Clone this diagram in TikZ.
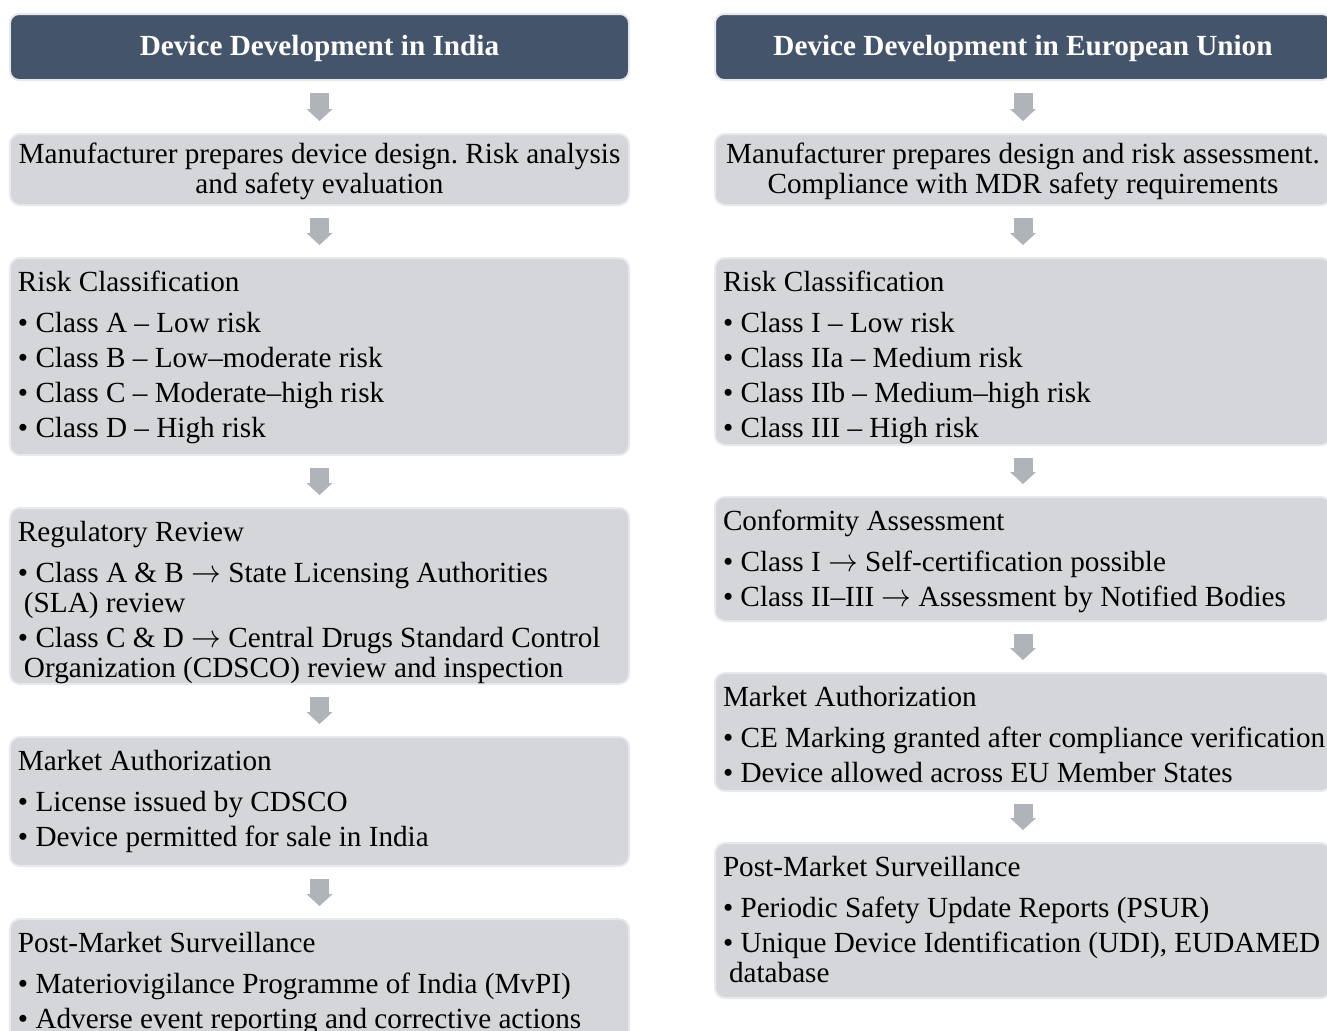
\documentclass[tikz,border=0pt]{standalone}
\usepackage{fontspec}
\setmainfont{Liberation Serif}
\usetikzlibrary{arrows.meta,positioning}

\definecolor{headfill}{HTML}{44546A}
\definecolor{cardfill}{HTML}{D5D6DA}
\definecolor{cardedge}{HTML}{E8E9EC}
\definecolor{flowgrey}{HTML}{B1B3BA}

% one bullet line / wrapped follow-up line, never broken by TeX
\newcommand{\itm}[1]{\makebox[0pt][l]{•\ #1}}
\newcommand{\cont}[1]{\makebox[0pt][l]{\hspace*{6bp}#1}}
% long thin arrow used in the bullet texts
\newcommand{\toarr}{\scalebox{1.2}[1.3]{$\rightarrow$}}

\frenchspacing
\begin{document}
\begin{tikzpicture}[x=1bp, y=-1bp,
   every node/.style={outer sep=0pt},
   % fixed word space of the font (align= would change it)
   plain space/.style={execute at begin node={\spaceskip=\fontdimen2\font\xspaceskip=\spaceskip\relax}},
   head/.style={draw=cardedge, line width=2bp, fill=headfill, rounded corners=9bp,
                text=white, font=\fontsize{29.2bp}{30bp}\selectfont\bfseries,
                align=center, inner xsep=8bp, inner ysep=0pt,
                text height=41bp, text depth=25bp, plain space},
   card/.style={draw=cardedge, line width=2bp, fill=cardfill, rounded corners=10bp,
                font=\fontsize{29.2bp}{30bp}\selectfont, align=left,
                inner xsep=8bp, inner ysep=0pt, text height=33bp, plain space},
   lcol/.style={text width=603bp},
   rcol/.style={text width=600bp},
   flow/.style={draw=flowgrey, line width=19bp,
                -{Triangle[width=26bp,length=12bp,line width=0pt]}},
   node distance=53bp]
\useasboundingbox (0,0) rectangle (1327,1030);
\clip (0,0) rectangle (1327,1030);

% India
\node[head, lcol, anchor=north] (ih) at (319.5,14) {Device Development in India};
\node[card, lcol, align=center, text height=29bp, text depth=42bp, below=54bp of ih] (i1)
  {Manufacturer prepares device design. Risk analysis\\ and safety evaluation};
\node[card, lcol, text depth=164bp, below=of i1] (i2)
  {Risk Classification\\[11bp]
   \itm{Class A – Low risk}\\[5.3bp]
   \itm{Class B – Low–moderate risk}\\[5.3bp]
   \itm{Class C – Moderate–high risk}\\[5.3bp]
   \itm{Class D – High risk}};
\node[card, lcol, text depth=143bp, below=of i2] (i3)
  {Regulatory Review\\[11bp]
   \itm{Class A \& B \toarr{} State Licensing Authorities}\\
   \cont{(SLA) review}\\[5.3bp]
   \itm{Class C \& D \toarr{} Central Drugs Standard Control}\\
   \cont{Organization (CDSCO) review and inspection}};
\node[card, lcol, text depth=96bp, below=of i3] (i4)
  {Market Authorization\\[11bp]
   \itm{License issued by CDSCO}\\[5.3bp]
   \itm{Device permitted for sale in India}};
\node[card, lcol, text depth=100bp, below=of i4] (i5)
  {Post-Market Surveillance\\[11bp]
   \itm{Materiovigilance Programme of India (MvPI)}\\[5.3bp]
   \itm{Adverse event reporting and corrective actions}};

% European Union
\node[head, rcol, anchor=north] (eh) at (1023,14) {Device Development in European Union};
\node[card, rcol, align=center, text height=29bp, text depth=42bp, below=54bp of eh] (e1)
  {Manufacturer prepares design and risk assessment.\\ Compliance with MDR safety requirements};
\node[card, rcol, text depth=154bp, below=of e1] (e2)
  {Risk Classification\\[11bp]
   \itm{Class I – Low risk}\\[5.3bp]
   \itm{Class IIa – Medium risk}\\[5.3bp]
   \itm{Class IIb – Medium–high risk}\\[5.3bp]
   \itm{Class III – High risk}};
\node[card, rcol, text depth=91bp, below=52bp of e2] (e3)
  {Conformity Assessment\\[11bp]
   \itm{Class I \toarr{} Self-certification possible}\\[5.3bp]
   \itm{Class II–III \toarr{} Assessment by Notified Bodies}};
\node[card, rcol, text depth=85bp, below=52bp of e3] (e4)
  {Market Authorization\\[11bp]
   \itm{CE Marking granted after compliance verification}\\[5.3bp]
   \itm{Device allowed across EU Member States}};
\node[card, rcol, text depth=122bp, below=52bp of e4] (e5)
  {Post-Market Surveillance\\[11bp]
   \itm{Periodic Safety Update Reports (PSUR)}\\[5.3bp]
   \itm{Unique Device Identification (UDI), EUDAMED}\\
   \cont{database}};

\foreach \a/\b in {ih/i1,i1/i2,i2/i3,i3/i4,i4/i5,eh/e1,e1/e2,e2/e3,e3/e4,e4/e5}
  \draw[flow] ([yshift=-13bp]\a.south) -- ([yshift=13bp]\b.north);
\end{tikzpicture}
\end{document}
